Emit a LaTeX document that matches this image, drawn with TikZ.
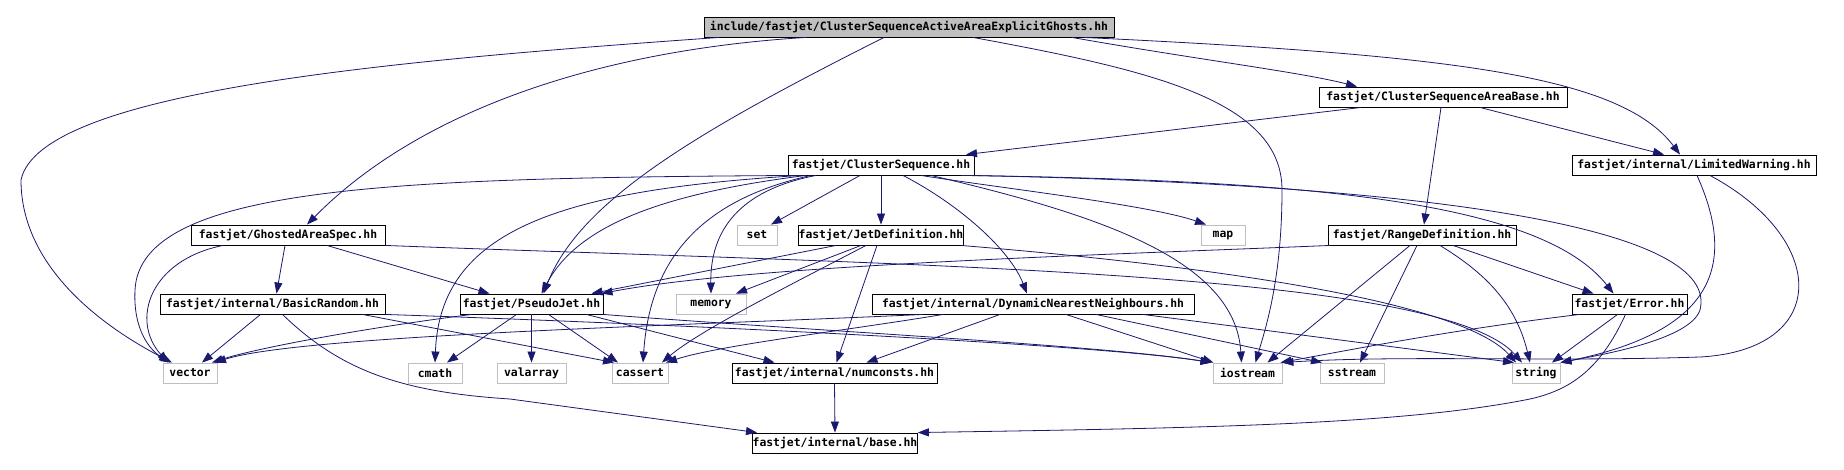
\documentclass[tikz,border=0pt]{standalone}
\usepackage{fontspec}
\setmonofont{DejaVu Sans Mono}
\usetikzlibrary{arrows.meta}
\definecolor{edgec}{RGB}{25,25,112}
\definecolor{gbox}{RGB}{191,191,191}
\tikzset{
  hdr/.style={draw=black, line width=0.9pt, fill=white, minimum height=20pt, inner sep=0pt,
    font=\ttfamily\bfseries\fontsize{11.4}{13}\selectfont, text=black},
  sys/.style={hdr, draw=gbox},
  root/.style={hdr, fill=gbox},
  dep/.style={draw=edgec, line width=0.8pt, -{Triangle[length=11pt,width=8pt]}},
}
\begin{document}
\begin{tikzpicture}[x=1pt,y=-1pt]
\useasboundingbox[fill=white] (0,0) rectangle (1844,470);
% nodes
\node[root, minimum width=410pt] (top) at (909,27) {include/fastjet/ClusterSequenceActiveAreaExplicitGhosts.hh};
\node[hdr, minimum width=248pt] (csab) at (1443,97) {fastjet/ClusterSequenceAreaBase.hh};
\node[hdr, minimum width=186pt] (cs) at (881,165) {fastjet/ClusterSequence.hh};
\node[hdr, minimum width=244pt] (lw) at (1694,165) {fastjet/internal/LimitedWarning.hh};
\node[hdr, minimum width=194pt] (gas) at (288,235) {fastjet/GhostedAreaSpec.hh};
\node[sys, minimum width=40pt] (set) at (757,235) {set};
\node[hdr, minimum width=164pt] (jd) at (881,235) {fastjet/JetDefinition.hh};
\node[sys, minimum width=44pt] (map) at (1223,235) {map};
\node[hdr, minimum width=188pt] (rd) at (1422,235) {fastjet/RangeDefinition.hh};
\node[hdr, minimum width=225pt] (br) at (272.5,304) {fastjet/internal/BasicRandom.hh};
\node[hdr, minimum width=143pt] (pj) at (531.5,304) {fastjet/PseudoJet.hh};
\node[sys, minimum width=70pt] (mem) at (711,304) {memory};
\node[hdr, minimum width=322pt] (dnn) at (1033,304) {fastjet/internal/DynamicNearestNeighbours.hh};
\node[hdr, minimum width=115pt] (err) at (1629.5,304) {fastjet/Error.hh};
\node[sys, minimum width=54pt] (vec) at (190,373) {vector};
\node[sys, minimum width=54pt] (cmath) at (435,373) {cmath};
\node[sys, minimum width=69pt] (val) at (531.5,373) {valarray};
\node[sys, minimum width=56pt] (cass) at (640,373) {cassert};
\node[hdr, minimum width=205pt] (nc) at (834.5,373) {fastjet/internal/numconsts.hh};
\node[sys, minimum width=69pt] (ios) at (1247.5,373) {iostream};
\node[sys, minimum width=64pt] (sst) at (1352,373) {sstream};
\node[sys, minimum width=48pt] (str) at (1536,373) {string};
\node[hdr, minimum width=164pt] (base) at (835,443) {fastjet/internal/base.hh};
% edges from top
\draw[dep] ([xshift=-190pt]top.south) .. controls (400,60) and (40,90) .. (21,180) .. controls (21,260) and (90,320) .. ([xshift=-18pt]vec.north);
\draw[dep] ([xshift=-103pt]top.south) .. controls (600,50) and (420,110) .. ([xshift=19pt]gas.north);
\draw[dep] ([xshift=-25pt]top.south) .. controls (700,130) and (580,200) .. ([xshift=12pt]pj.north);
\draw[dep] ([xshift=163pt]top.south) .. controls (1200,60) and (1300,72) .. ([xshift=-86pt]csab.north);
\draw[dep] ([xshift=175pt]top.south) .. controls (1450,55) and (1620,75) .. ([xshift=-14pt]lw.north);
\draw[dep] ([xshift=64pt]top.south) .. controls (1150,70) and (1282,100) .. (1282,190) .. controls (1282,280) and (1265,330) .. ([xshift=8pt]ios.north);
% ClusterSequenceAreaBase
\draw[dep] ([xshift=-82pt]csab.south) -- ([xshift=85pt]cs.north);
\draw[dep] ([xshift=-2pt]csab.south) -- ([xshift=2pt]rd.north);
\draw[dep] ([xshift=37pt]csab.south) -- ([xshift=-30pt]lw.north);
% ClusterSequence
\draw[dep] ([xshift=-21pt]cs.south) -- ([xshift=14pt]set.north);
\draw[dep] (cs.south) -- (jd.north);
\draw[dep] ([xshift=22pt]cs.south) .. controls (960,205) and (1010,250) .. ([xshift=-6pt]dnn.north);
\draw[dep] ([xshift=40pt]cs.south) .. controls (1000,188) and (1150,205) .. ([xshift=-17pt]map.north);
\draw[dep] ([xshift=50pt]cs.south) .. controls (1100,215) and (1235,260) .. ([xshift=-6pt]ios.north);
\draw[dep] ([xshift=80pt]cs.south) .. controls (1300,180) and (1540,200) .. ([xshift=-16pt]err.north);
\draw[dep] ([xshift=90pt]cs.south) .. controls (1450,185) and (1720,230) .. (1700,310) .. controls (1690,340) and (1600,355) .. (str.north east);
\draw[dep] ([xshift=-85pt]cs.south) .. controls (400,178) and (140,185) .. (135,290) .. controls (133,330) and (150,350) .. ([xshift=-20pt]vec.north);
\draw[dep] ([xshift=-75pt]cs.south) .. controls (650,195) and (575,230) .. ([xshift=10pt]pj.north);
\draw[dep] ([xshift=-80pt]cs.south) .. controls (560,190) and (440,230) .. (cmath.north);
\draw[dep] ([xshift=-70pt]cs.south) .. controls (700,200) and (650,260) .. ([xshift=3pt]cass.north);
\draw[dep] ([xshift=-65pt]cs.south) .. controls (740,190) and (710,230) .. (mem.north);
% JetDefinition
\draw[dep] ([xshift=-45pt]jd.south) -- ([xshift=60pt]pj.north);
\draw[dep] ([xshift=-20pt]jd.south) -- ([xshift=25pt]mem.north);
\draw[dep] ([xshift=-15pt]jd.south) .. controls (800,280) and (700,330) .. ([xshift=22pt]cass.north);
\draw[dep] ([xshift=-4pt]jd.south) -- ([xshift=2pt]nc.north);
\draw[dep] ([xshift=80pt]jd.south) .. controls (1200,265) and (1460,300) .. ([xshift=-20pt]str.north);
% DynamicNearestNeighbours
\draw[dep] ([xshift=-110pt]dnn.south) .. controls (700,325) and (300,335) .. ([xshift=25pt]vec.north);
\draw[dep] ([xshift=-90pt]dnn.south) .. controls (850,330) and (720,345) .. ([xshift=26pt]cass.north);
\draw[dep] ([xshift=-33pt]dnn.south) -- ([xshift=32pt]nc.north);
\draw[dep] ([xshift=33pt]dnn.south) -- ([xshift=-34pt]ios.north);
\draw[dep] ([xshift=63pt]dnn.south) -- ([xshift=-30pt]sst.north);
\draw[dep] ([xshift=110pt]dnn.south) -- ([xshift=-22pt]str.north);
% PseudoJet
\draw[dep] ([xshift=-60pt]pj.south) .. controls (350,330) and (250,350) .. ([xshift=22pt]vec.north);
\draw[dep] ([xshift=-15pt]pj.south) -- ([xshift=12pt]cmath.north);
\draw[dep] (pj.south) -- (val.north);
\draw[dep] ([xshift=17pt]pj.south) -- ([xshift=-22pt]cass.north);
\draw[dep] ([xshift=55pt]pj.south) -- ([xshift=-60pt]nc.north);
\draw[dep] (pj.south east) .. controls (800,330) and (1100,345) .. ([xshift=-36pt]ios.north);
% BasicRandom
\draw[dep] ([xshift=-12pt]br.south) -- ([xshift=12pt]vec.north);
\draw[dep] ([xshift=90pt]br.south) -- ([xshift=-26pt]cass.north);
\draw[dep] (br.south east) .. controls (700,325) and (1100,345) .. ([xshift=-36pt]ios.north);
\draw[dep] ([xshift=10pt]br.south) .. controls (340,370) and (400,392) .. (510,399) -- ([xshift=-78pt]base.north);
% GhostedAreaSpec
\draw[dep] ([xshift=-65pt]gas.south) .. controls (150,260) and (130,320) .. ([xshift=-22pt]vec.north);
\draw[dep] ([xshift=-3pt]gas.south) -- ([xshift=4pt]br.north);
\draw[dep] ([xshift=39pt]gas.south) -- ([xshift=-42pt]pj.north);
\draw[dep] (gas.south east) .. controls (900,265) and (1440,270) .. ([xshift=-14pt]str.north);
% numconsts
\draw[dep] (nc.south) -- (base.north);
% Error
\draw[dep] ([xshift=-50pt]err.south) .. controls (1450,330) and (1350,350) .. ([xshift=33pt]ios.north);
\draw[dep] ([xshift=-12pt]err.south) -- ([xshift=16pt]str.north);
\draw[dep] ([xshift=-4pt]err.south) .. controls (1600,370) and (1570,390) .. (1530,399) .. controls (1400,425) and (1200,428) .. (base.north east);
% RangeDefinition
\draw[dep] ([xshift=-92pt]rd.south) .. controls (1100,255) and (750,265) .. ([xshift=70pt]pj.north);
\draw[dep] ([xshift=-12pt]rd.south) -- ([xshift=20pt]ios.north);
\draw[dep] ([xshift=-5pt]rd.south) -- ([xshift=8pt]sst.north);
\draw[dep] ([xshift=18pt]rd.south) .. controls (1480,270) and (1515,300) .. ([xshift=-6pt]str.north);
\draw[dep] ([xshift=31pt]rd.south) -- ([xshift=-36pt]err.north);
% LimitedWarning
\draw[dep] ([xshift=3pt]lw.south) .. controls (1735,260) and (1720,330) .. (str.north east);
\draw[dep] ([xshift=16pt]lw.south) .. controls (1830,240) and (1830,350) .. (1700,357) .. controls (1550,362) and (1400,355) .. (ios.north east);
\end{tikzpicture}
\end{document}
